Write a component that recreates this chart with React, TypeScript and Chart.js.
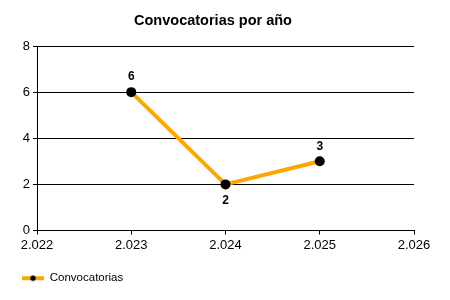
import React, { useEffect, useRef } from "react";
import { Chart, registerables } from "chart.js";

Chart.register(...registerables);

const years = [2023, 2024, 2025];
const convocatorias = [6, 2, 3];
const seriesName = "Convocatorias";
const titleText = "Convocatorias por año";
const xMin = 2022;
const xMax = 2026;
const yMin = 0;
const yMax = 8;
const yStep = 2;

const FONT = "'Liberation Sans', Arial, sans-serif";
const ORANGE = "#FFA500";

const labelPlugin = {
  id: "valueLabels",
  afterDatasetsDraw(chart: any) {
    const ctx = chart.ctx;
    const meta = chart.getDatasetMeta(0);
    const data = chart.data.datasets[0].data as { x: number; y: number }[];
    ctx.save();
    ctx.font = `bold 12px ${FONT}`;
    ctx.fillStyle = "#000";
    ctx.textAlign = "center";
    ctx.textBaseline = "middle";
    meta.data.forEach((pt: any, i: number) => {
      const v = data[i].y;
      const prev = i > 0 ? data[i - 1].y : -Infinity;
      const next = i < data.length - 1 ? data[i + 1].y : -Infinity;
      const below = v < prev && v < next;
      const dy = below ? 16 : -15;
      ctx.fillText(String(v), pt.x, pt.y + dy);
    });
    ctx.restore();
  },
};

function makeLegendIcon(): HTMLCanvasElement {
  const c = document.createElement("canvas");
  c.width = 22;
  c.height = 8;
  const g = c.getContext("2d")!;
  g.strokeStyle = ORANGE;
  g.lineWidth = 4;
  g.beginPath();
  g.moveTo(0, 4);
  g.lineTo(22, 4);
  g.stroke();
  g.fillStyle = "#000";
  g.beginPath();
  g.arc(11, 4, 2.7, 0, Math.PI * 2);
  g.fill();
  return c;
}

export default function App() {
  const ref = useRef<HTMLCanvasElement>(null);
  useEffect(() => {
    if (!ref.current) return;
    const icon = makeLegendIcon();
    const chart = new Chart(ref.current, {
      type: "line",
      data: {
        datasets: [
          {
            label: seriesName,
            data: years.map((y, i) => ({ x: y, y: convocatorias[i] })),
            borderColor: ORANGE,
            backgroundColor: "#000",
            borderWidth: 4,
            pointRadius: 5,
            pointBackgroundColor: "#000",
            pointBorderColor: "#000",
            pointBorderWidth: 0,
            tension: 0,
          },
        ],
      },
      options: {
        animation: false,
        responsive: false,
        devicePixelRatio: 1,
        layout: { padding: { left: 12, right: 36, top: 0, bottom: 6 } },
        plugins: {
          title: {
            display: true,
            text: titleText,
            color: "#000",
            font: { family: FONT, size: 14.5, weight: "bold" },
            padding: { top: 12, bottom: 16.6 },
          },
          legend: {
            position: "bottom",
            align: "start",
            labels: {
              usePointStyle: true,
              pointStyleWidth: 22,
              boxHeight: 8,
              color: "#000",
              font: { family: FONT, size: 11.5 },
              padding: 10,
              generateLabels: () => [
                {
                  text: seriesName,
                  pointStyle: icon as any,
                  fillStyle: ORANGE,
                  strokeStyle: ORANGE,
                  lineWidth: 0,
                  hidden: false,
                  datasetIndex: 0,
                  fontColor: "#000",
                } as any,
              ],
            },
          },
          tooltip: { enabled: false },
        },
        scales: {
          x: {
            type: "linear",
            min: xMin,
            max: xMax,
            ticks: {
              stepSize: 1,
              color: "#000",
              font: { family: FONT, size: 13 },
              padding: 3,
              maxRotation: 0,
              callback: (v: any) => (Number(v) / 1000).toFixed(3),
            },
            grid: {
              display: true,
              drawOnChartArea: false,
              drawTicks: true,
              tickLength: 4,
              color: "#000",
            },
            border: { display: true, color: "#000", width: 1 },
            afterFit: (s: any) => {
              s.height = 32;
            },
          },
          y: {
            min: yMin,
            max: yMax,
            ticks: {
              stepSize: yStep,
              color: "#000",
              font: { family: FONT, size: 13 },
              padding: 3,
            },
            grid: {
              display: true,
              drawTicks: true,
              tickLength: 4,
              color: "#000",
            },
            border: { display: true, color: "#000", width: 1 },
            afterFit: (s: any) => {
              s.width = 25;
            },
          },
        },
      },
      plugins: [labelPlugin],
    });
    return () => chart.destroy();
  }, []);
  return (
    <div style={{ position: "fixed", left: 0, top: 0, width: 450, height: 300, background: "#fff" }}>
      <canvas ref={ref} width={450} height={300} />
    </div>
  );
}
